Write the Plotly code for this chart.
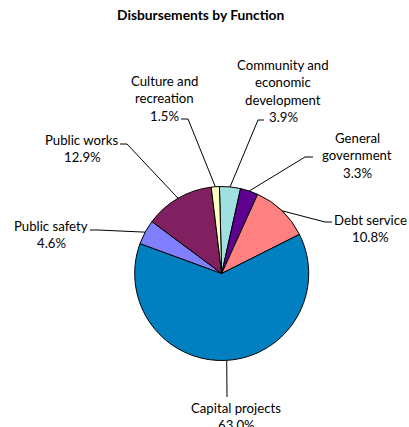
import math
import plotly.graph_objects as go

# ---- data ----
categories = ["Community and economic development", "General government", "Debt service",
              "Capital projects", "Public safety", "Public works", "Culture and recreation"]
label_lines = [["Community and", "economic", "development"], ["General", "government"],
               ["Debt service"], ["Capital projects"], ["Public safety"], ["Public works"],
               ["Culture and", "recreation"]]
values = [3.9, 3.3, 10.8, 63.0, 4.6, 12.9, 1.5]
colors = ["#A0E0E0", "#600090", "#FF8080", "#0080C0", "#8080FF", "#802060", "#FFFFC0"]

# ---- layout (pixels) ----
W, H = 409, 427
CX, CY, R = 221.7, 273.5, 87.0
ROT = -1.5
# label text center x, first line y, elbow point, end of horizontal segment
label_pos = [
    (283, 65, (258, 120), (264, 120)),
    (357, 138, (305, 157), (313, 157)),
    (370, 220, (325, 222), (332, 222)),
    (236, 408, (227, 397), (227, 397)),
    (51, 226, (98, 230), (90, 230)),
    (82, 140, (127, 144), (120, 144)),
    (164, 81, (188, 119), (181, 119)),
]
LINE_H = 17.3

def px(x):
    return x / W

def py(y):
    return 1 - y / H

fig = go.Figure(go.Pie(
    labels=categories, values=values, sort=False, direction="clockwise", rotation=ROT,
    marker=dict(colors=colors, line=dict(color="#000000", width=1)),
    textinfo="none", hoverinfo="label+percent", showlegend=False,
    domain=dict(x=[px(CX - R), px(CX + R)], y=[py(CY + R), py(CY - R)]),
))

font = dict(family="Lato, Open Sans, sans-serif", size=13.2, color="#000000")
annotations = [dict(text="<b>Disbursements by Function</b>", x=px(201), y=py(14),
                    xref="paper", yref="paper", showarrow=False, xanchor="center",
                    yanchor="middle", font=dict(family="Lato, Open Sans, sans-serif", size=13.8, color="#000000"))]
shapes = []
total = sum(values)
cum = 0.0
for i, v in enumerate(values):
    mid = (cum + v / 2) / total * 360 + ROT
    cum += v
    ex = CX + R * math.sin(math.radians(mid))
    ey = CY - R * math.cos(math.radians(mid))
    tx, ty, (elx, ely), (hx, hy) = label_pos[i]
    lines = label_lines[i] + [f"{v:.1f}%"]
    for j, ln in enumerate(lines):
        annotations.append(dict(text=ln, x=px(tx), y=py(ty + j * LINE_H), xref="paper", yref="paper",
                                showarrow=False, xanchor="center", yanchor="middle", font=font))
    shapes.append(dict(type="path", xref="paper", yref="paper",
                       path=f"M {px(ex)} {py(ey)} L {px(elx)} {py(ely)} L {px(hx)} {py(hy)}",
                       line=dict(color="#000000", width=1)))

fig.update_layout(width=W, height=H, margin=dict(l=0, r=0, t=0, b=0),
                  paper_bgcolor="#FFFFFF", plot_bgcolor="#FFFFFF",
                  annotations=annotations, shapes=shapes)
fig.write_html("out.html")
